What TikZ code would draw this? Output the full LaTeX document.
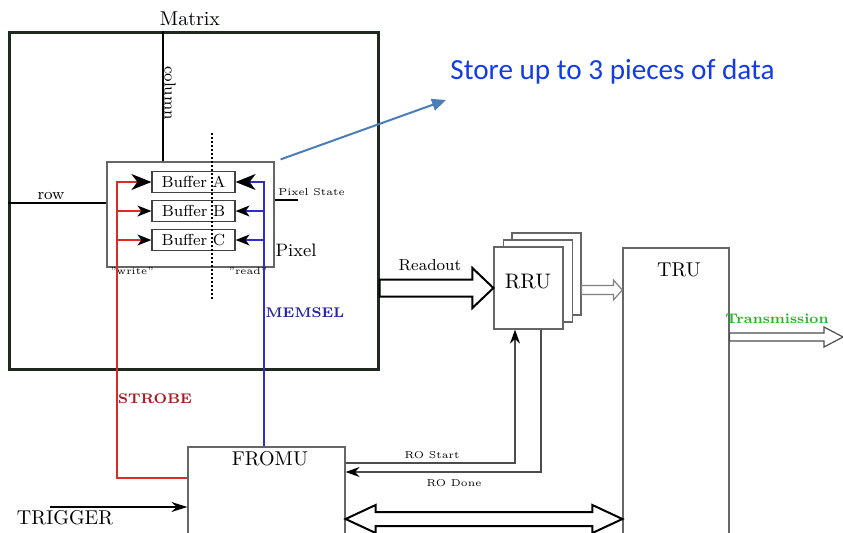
\documentclass[tikz,border=0pt]{standalone}
\usepackage{fontspec}
\newfontfamily\notefont{Carlito}
\usetikzlibrary{arrows.meta,calc}

\definecolor{strobered}{RGB}{225,40,40}
\definecolor{strobetext}{RGB}{170,25,30}
\definecolor{memselblue}{RGB}{45,45,205}
\definecolor{memseltext}{RGB}{35,35,165}
\definecolor{txgreen}{RGB}{40,180,40}
\definecolor{noteblue}{RGB}{20,60,230}
\definecolor{notearrow}{RGB}{74,126,187}
\definecolor{matrixline}{RGB}{30,40,30}

% hollow block arrow: [opts]{from}{to}{half shaft}{half head}{head length}
\newcommand{\hollowarrow}[6][]{%
  \draw[fill=white,#1] let \p1=#2, \p2=#3 in
    (\x1,\y1+#4) -- (\x2-#6,\y1+#4) -- (\x2-#6,\y1+#5) -- (\x2,\y1)
    -- (\x2-#6,\y1-#5) -- (\x2-#6,\y1-#4) -- (\x1,\y1-#4) -- cycle;}
% same, head on both ends
\newcommand{\hollowdouble}[6][]{%
  \draw[fill=white,#1] let \p1=#2, \p2=#3 in
    (\x1,\y1) -- (\x1+#6,\y1+#5) -- (\x1+#6,\y1+#4) -- (\x2-#6,\y1+#4)
    -- (\x2-#6,\y1+#5) -- (\x2,\y1) -- (\x2-#6,\y1-#5) -- (\x2-#6,\y1-#4)
    -- (\x1+#6,\y1-#4) -- (\x1+#6,\y1-#5) -- cycle;}

\begin{document}
\begin{tikzpicture}[x=0.5pt,y=-0.5pt,
    box/.style={draw=black!60, line width=0.6pt, inner sep=0pt},
    buf/.style={draw=black!75, line width=0.6pt, minimum width=41.5pt,
      minimum height=10.5pt, inner sep=0pt, font=\footnotesize},
    strobe/.style={draw=strobered, line width=0.7pt},
    memsel/.style={draw=memselblue, line width=0.7pt},
    bigtip/.style={-{Stealth[length=10pt,width=8pt,inset=3pt,color=black]}},
    smalltip/.style={-{Stealth[length=7pt,width=5.5pt,inset=2pt,color=black]}},
    ro/.style={draw=black!70, line width=0.8pt},
    rotip/.style={-{Stealth[length=7pt,width=5pt,color=black]}}]
  \fill[white] (0,0) rectangle (843,532);
  \useasboundingbox (0,0) rectangle (843,532);
  \clip (0,0) rectangle (843,532);

  % Matrix
  \node[draw=matrixline, line width=1.5pt, minimum width=184.5pt,
    minimum height=168.5pt, inner sep=0pt] (matrixbox) at (193.5,200.5) {};
  \node (matrixlbl) at (190,19) {Matrix};

  % Pixel and buffers
  \node[box, minimum width=83.5pt, minimum height=52.5pt] (pixel) at (190.5,214.5) {};
  \node[font=\small] (pixellbl) at (296,250) {Pixel};
  \node[buf] (bufa) at (193.5,182) {Buffer A};
  \node[buf] (bufb) at (193.5,211) {Buffer B};
  \node[buf] (bufc) at (193.5,240) {Buffer C};
  \node[font=\tiny] (writelbl) at (132,271) {"write"};
  \node[font=\tiny] (readlbl) at (248,271) {"read"};

  % column / row
  \coordinate (colx) at (163,0);
  \draw[line width=0.7pt] (matrixbox.north -| colx) -- (pixel.north -| colx);
  \node[rotate=-90, font=\footnotesize] (collbl) at (170,93) {column};
  \coordinate (rowy) at (0,203);
  \draw[line width=0.7pt] (matrixbox.west |- rowy) -- (pixel.west |- rowy);
  \node[font=\footnotesize] (rowlbl) at (51,196) {row};

  % Pixel State
  \coordinate (psend) at (298,200);
  \draw[line width=0.7pt] (pixel.east |- psend) -- (psend);
  \node[font=\tiny, anchor=south west, inner sep=1pt] (pslbl) at (276,198) {Pixel State};

  % write / read border
  \coordinate (dottop) at (212,133);
  \coordinate (dotbot) at (212,300);
  \draw[densely dotted, line width=1pt] (dottop) -- (dotbot);

  % FROMU, TRU
  \node[box, minimum width=78.5pt, minimum height=46.5pt] (fromu) at (266.5,493.5) {};
  \node (fromulbl) at (270,459) {FROMU};
  \node[box, minimum width=53pt, minimum height=148.5pt] (tru) at (676,396.5) {};
  \node (trulbl) at (679,270) {TRU};

  % RRU stack
  \node[box, fill=white, minimum width=34.5pt, minimum height=41pt] (rru3) at (546.5,274) {};
  \node[box, fill=white, minimum width=34.5pt, minimum height=41pt] (rru2) at (538,281) {};
  \node[box, fill=white, minimum width=34.5pt, minimum height=41pt] (rru) at (528.5,288) {};
  \node[font=\fontsize{10.5}{12}\selectfont] (rrulbl) at (528,282) {RRU};

  % Readout
  \hollowarrow[line width=1pt]{(matrixbox.east |- rru.west)}{(rru.west)}{4.25pt}{10pt}{10.5pt}
  \node[font=\footnotesize] (readoutlbl) at (430,265) {Readout};

  % RRU -> TRU
  \hollowarrow[draw=black!50, line width=0.6pt]{([yshift=-8pt]rru3.east)}{(tru.west)}{2.25pt}{5pt}{4.5pt}

  % Transmission
  \coordinate (txend) at (843,337);
  \hollowarrow[draw=black!70, line width=0.6pt]{(tru.east |- txend)}{(txend)}{2pt}{5pt}{9.5pt}
  \node[font=\scriptsize\bfseries, text=txgreen] (txlbl) at (777,319) {Transmission};

  % FROMU <-> TRU
  \coordinate (busy) at (0,519);
  \hollowdouble[line width=1pt]{(fromu.east |- busy)}{(tru.west)}{3.5pt}{7pt}{15pt}

  % RO Start / RO Done
  \coordinate (rostart) at (515,463);
  \draw[ro, rotip] (fromu.east |- rostart) -| (rostart |- rru.south);
  \node[font=\tiny] (rostartlbl) at (432,455) {RO Start};
  \coordinate (rodone) at (541,472);
  \draw[ro, rotip] (rodone |- rru.south) |- (fromu.east |- rodone);
  \node[font=\tiny] (rodonelbl) at (454,483) {RO Done};

  % TRIGGER
  \coordinate (trigstart) at (50,507);
  \draw[line width=0.7pt, -{Stealth[length=8pt,width=5pt]}] (trigstart) -- (fromu.west |- trigstart);
  \node (triglbl) at (65,518) {TRIGGER};

  % STROBE
  \coordinate (strobex) at (117,478);
  \draw[strobe, bigtip] (fromu.west |- strobex) -| (strobex |- bufa.west) -- (bufa.west);
  \draw[strobe, smalltip] (strobex |- bufb.west) -- (bufb.west);
  \draw[strobe, smalltip] (strobex |- bufc.west) -- (bufc.west);
  \node[font=\scriptsize\bfseries, text=strobetext] (strobelbl) at (155,399) {STROBE};

  % MEMSEL
  \coordinate (memselx) at (264,0);
  \draw[memsel, bigtip] (fromu.north -| memselx) |- (bufa.east);
  \draw[memsel, smalltip] (memselx |- bufb.east) -- (bufb.east);
  \draw[memsel, smalltip] (memselx |- bufc.east) -- (bufc.east);
  \node[font=\scriptsize\bfseries, text=memseltext] (memsellbl) at (305,313) {MEMSEL};

  % note
  \node[font=\notefont\fontsize{14.6}{17}\selectfont, text=noteblue, anchor=base west,
    inner sep=0pt] (note) at (450,79) {Store up to 3 pieces of data};
  \coordinate (notetip) at (446,100);
  \draw[notearrow, line width=1pt, -{Triangle[length=7pt,width=6pt]}]
    ([shift={(3pt,1pt)}]pixel.north east) -- (notetip);
\end{tikzpicture}
\end{document}
